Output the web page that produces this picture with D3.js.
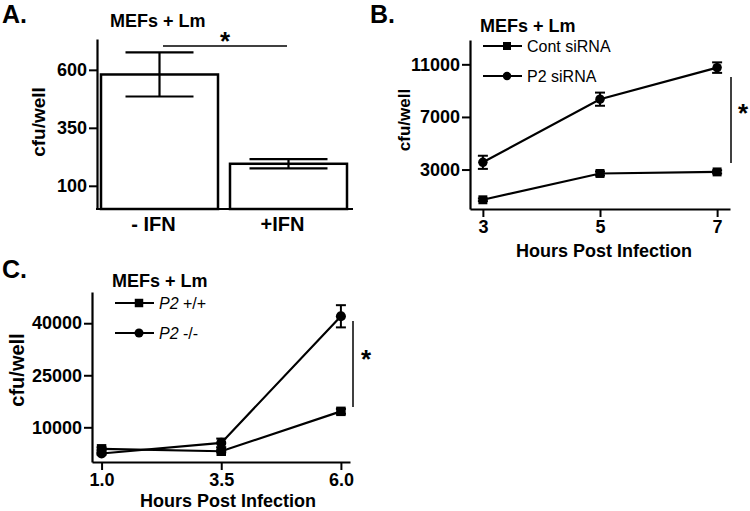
<!DOCTYPE html>
<html>
<head>
<meta charset="utf-8">
<script src="https://cdn.jsdelivr.net/npm/d3@7"></script>
<style>
  body { margin: 0; background: #fff; }
  text { font-family: "Liberation Sans", Arial, sans-serif; fill: #000; }
</style>
</head>
<body>
<svg id="fig" width="750" height="511"></svg>
<script>
// panel A data
var barCats = ["- IFN", "+IFN"]
var barVals = [580, 195]
var barErr = [95, 20]
var aTicks = [100, 350, 600]

// panel B data
var bHours = [3, 5, 7]
var bCont = [700, 2700, 2820]
var bContErr = [100, 150, 120]
var bP2 = [3550, 8350, 10750]
var bP2Err = [500, 500, 400]
var bTicks = [3000, 7000, 11000]

// panel C data
var cHours = [1.0, 3.5, 6.0]
var cWT = [3800, 3100, 14600]
var cWTErr = [400, 300, 700]
var cKO = [2450, 5500, 42000]
var cKOErr = [300, 1250, 3200]
var cTicks = [10000, 25000, 40000]

var svg = d3.select("#fig")

function txt(g, x, y, s, size, weight, anchor) {
  return g.append("text").attr("x", x).attr("y", y).text(s)
    .attr("font-size", size).attr("font-weight", weight || "bold")
    .attr("text-anchor", anchor || "start")
}

// y axis with outward ticks, bold labels
function yAxis(g, x0, y, ticks, size) {
  var ax = g.append("g").attr("transform", "translate(" + x0 + ",0)")
    .call(d3.axisLeft(y).tickValues(ticks).tickFormat(d3.format("d")).tickSize(8).tickSizeOuter(0).tickPadding(2))
  ax.select(".domain").attr("stroke-width", 2.2)
  ax.selectAll(".tick line").attr("stroke-width", 2)
  ax.selectAll(".tick text").attr("font-size", size).attr("font-weight", "bold")
    .attr("font-family", "Liberation Sans, Arial, sans-serif").attr("fill", "#000")
  return ax
}

// ---------------- Panel A ----------------
var gA = svg.append("g")
var yA = d3.scaleLinear().domain([0, 733]).range([209, 39])
var xA = d3.scaleBand().domain(barCats).range([101, 347]).paddingInner(0.093).paddingOuter(0)

txt(gA, 2, 23, "A.", 25)
txt(gA, 110, 27, "MEFs + Lm", 18)
yAxis(gA, 97, yA, aTicks, 18)
gA.append("line").attr("x1", 96).attr("x2", 353).attr("y1", 209).attr("y2", 209)
  .attr("stroke", "#000").attr("stroke-width", 2.2)

gA.selectAll("rect.bar").data(barVals).enter().append("rect")
  .attr("x", function(d, i) { return xA(barCats[i]) })
  .attr("y", function(d) { return yA(d) })
  .attr("width", xA.bandwidth())
  .attr("height", function(d) { return 209 - yA(d) })
  .attr("fill", "#fff").attr("stroke", "#000").attr("stroke-width", 2.5)

barVals.forEach(function(v, i) {
  var cx = xA(barCats[i]) + xA.bandwidth() / 2
  var hw = i == 0 ? 34 : 39
  gA.append("line").attr("x1", cx).attr("x2", cx).attr("y1", yA(v + barErr[i])).attr("y2", yA(v - barErr[i]))
    .attr("stroke", "#000").attr("stroke-width", 2.2)
  ;[v + barErr[i], v - barErr[i]].forEach(function(e) {
    gA.append("line").attr("x1", cx - hw).attr("x2", cx + hw).attr("y1", yA(e)).attr("y2", yA(e))
      .attr("stroke", "#000").attr("stroke-width", 2.2)
  })
  txt(gA, cx - 6, 231, barCats[i], 20, "bold", "middle")
})
// significance
gA.append("line").attr("x1", 163).attr("x2", 287).attr("y1", 46).attr("y2", 46).attr("stroke", "#000").attr("stroke-width", 1.5)
txt(gA, 225, 50, "*", 26, "bold", "middle")
txt(gA, 0, 0, "cfu/well", 19, "bold", "middle").attr("transform", "translate(45,122) rotate(-90)")

// ------------- line panel helper -------------
function linePanel(g, x, y, xs, series, legendY, legendX) {
  var line = d3.line().x(function(d, i) { return x(xs[i]) }).y(function(d) { return y(d) })
  series.forEach(function(s) {
    g.append("path").datum(s.vals).attr("d", line).attr("fill", "none")
      .attr("stroke", "#000").attr("stroke-width", 2.2)
    s.vals.forEach(function(v, i) {
      var cx = x(xs[i]), e = s.err[i]
      g.append("line").attr("x1", cx).attr("x2", cx).attr("y1", y(v + e)).attr("y2", y(v - e)).attr("stroke", "#000").attr("stroke-width", 2)
      ;[v + e, v - e].forEach(function(ev) {
        g.append("line").attr("x1", cx - 5).attr("x2", cx + 5).attr("y1", y(ev)).attr("y2", y(ev)).attr("stroke", "#000").attr("stroke-width", 2)
      })
    })
    g.selectAll(null).data(s.vals).enter().append("path")
      .attr("transform", function(d, i) { return "translate(" + x(xs[i]) + "," + y(d) + ")" })
      .attr("d", d3.symbol().type(s.sym).size(s.size))
      .attr("fill", "#000")
  })
  series.forEach(function(s, k) {
    var ly = legendY[k]
    g.append("line").attr("x1", legendX).attr("x2", legendX + 39).attr("y1", ly).attr("y2", ly).attr("stroke", "#000").attr("stroke-width", 2.2)
    g.append("path").attr("transform", "translate(" + (legendX + 24) + "," + ly + ")")
      .attr("d", d3.symbol().type(s.sym).size(s.size * 0.8)).attr("fill", "#000")
    var t = g.append("text").attr("x", legendX + 44).attr("y", ly + 6).attr("font-size", 16)
    s.label.forEach(function(p) {
      t.append("tspan").text(p[0]).attr("font-style", p[1] ? "italic" : "normal")
    })
  })
}

function xAxisBottom(g, x, y0, ticks, fmt, size) {
  var ax = g.append("g").attr("transform", "translate(0," + y0 + ")")
    .call(d3.axisBottom(x).tickValues(ticks).tickFormat(fmt).tickSize(8).tickSizeOuter(0).tickPadding(3))
  ax.select(".domain").attr("stroke-width", 2.2)
  ax.selectAll(".tick line").attr("stroke-width", 2)
  ax.selectAll(".tick text").attr("font-size", size).attr("font-weight", "bold")
    .attr("font-family", "Liberation Sans, Arial, sans-serif").attr("fill", "#000")
}

// ---------------- Panel B ----------------
var gB = svg.append("g")
var xB = d3.scaleLinear().domain([2.78, 7.22]).range([470, 730])
var yB = d3.scaleLinear().domain([0, 12850]).range([209, 40])
txt(gB, 370, 23, "B.", 25)
txt(gB, 480, 32, "MEFs + Lm", 18)
yAxis(gB, 470, yB, bTicks, 18)
xAxisBottom(gB, xB, 209, bHours, d3.format("d"), 18)
linePanel(gB, xB, yB, bHours, [
  { vals: bCont, err: bContErr, sym: d3.symbolSquare, size: 80, label: [["Cont  siRNA", false]] },
  { vals: bP2, err: bP2Err, sym: d3.symbolCircle, size: 70, label: [["P2  siRNA", false]] }
], [46, 76], 483)
txt(gB, 604, 257, "Hours Post Infection", 18, "bold", "middle")
txt(gB, 0, 0, "cfu/well", 17, "bold", "middle").attr("transform", "translate(410,120) rotate(-90)")
gB.append("line").attr("x1", 731).attr("x2", 731).attr("y1", 77).attr("y2", 163).attr("stroke", "#000").attr("stroke-width", 1.5)
txt(gB, 743, 122, "*", 26, "bold", "middle")

// ---------------- Panel C ----------------
var gC = svg.append("g")
var xC = d3.scaleLinear().domain([0.8, 6.19]).range([92, 350])
var yC = d3.scaleLinear().domain([0, 49000]).range([462, 292])
txt(gC, 2, 278, "C.", 25)
txt(gC, 112, 287, "MEFs + Lm", 18)
yAxis(gC, 92, yC, cTicks, 18)
xAxisBottom(gC, xC, 462, cHours, d3.format(".1f"), 18)
linePanel(gC, xC, yC, cHours, [
  { vals: cWT, err: cWTErr, sym: d3.symbolSquare, size: 90, label: [["P2", true], [" +/+", false]] },
  { vals: cKO, err: cKOErr, sym: d3.symbolCircle, size: 80, label: [["P2", true], [" -/-", false]] }
], [303, 333], 115)
txt(gC, 228, 507, "Hours Post Infection", 18, "bold", "middle")
txt(gC, 0, 0, "cfu/well", 20, "bold", "middle").attr("transform", "translate(24,370) rotate(-90)")
gC.append("line").attr("x1", 353).attr("x2", 353).attr("y1", 321).attr("y2", 407).attr("stroke", "#000").attr("stroke-width", 1.5)
txt(gC, 366, 368, "*", 26, "bold", "middle")
</script>
</body>
</html>
